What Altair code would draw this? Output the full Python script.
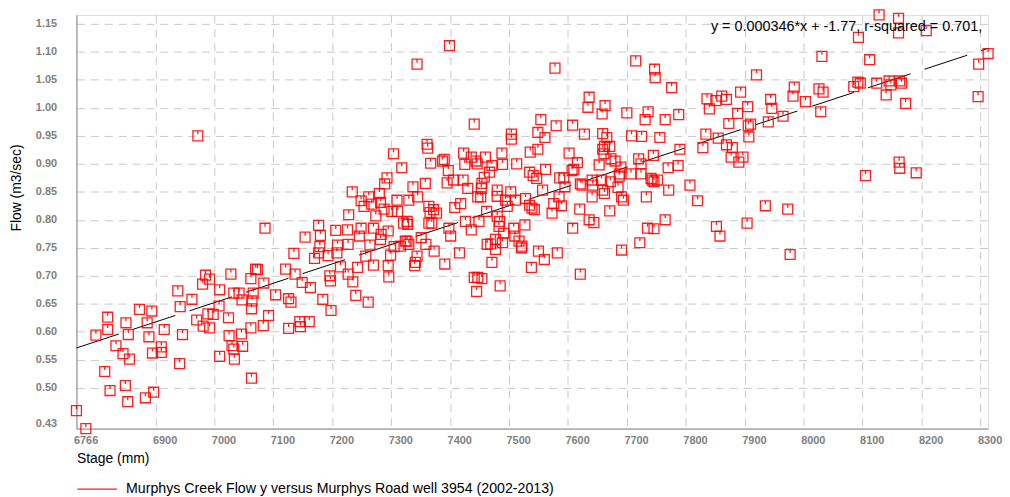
import altair as alt
import pandas as pd

# ---- data ----
stage = [
    6766, 6782, 6799, 6819, 6819, 6814, 6823, 6833, 6845, 6856, 6850, 6854, 6849, 6853, 6873, 6894,
    6886, 6889, 6883, 6897, 6895, 6910, 6910, 6915, 6938, 6942, 6946, 6941, 6962, 6970, 6981, 6989,
    6992, 6998, 6980, 6985, 6992, 7008, 7009, 7024, 7028, 7009, 7025, 7030, 7033, 7034, 7046, 7048,
    7063, 7062, 7063, 7064, 7062, 7070, 7073, 7042, 7033, 7066, 7084, 7083, 7047,
    6972, 7086, 7092,
    7121, 7135, 7137, 7149, 7163, 7104, 7126, 7130, 7126, 7145, 7146, 7161, 7184, 7198, 7154, 7177,
    7180, 7179, 7177, 7170, 7193, 7206, 7209, 7208, 7214, 7196, 7197, 7226, 7227, 7228, 7234, 7227,
    7235, 7240, 7243, 7249, 7246, 7257, 7261, 7270, 7249, 7254, 7262, 7267, 7270, 7274, 7264, 7280,
    7282, 7283, 7282, 7289, 7293, 7288, 7295, 7295, 7296, 7299, 7305, 7310, 7311, 7316, 7318, 7324,
    7321, 7301,
    7304, 7330, 7327, 7328, 7327, 7330, 7337, 7345, 7351, 7359, 7373, 7344, 7341, 7340, 7361, 7362,
    7367, 7358, 7364, 7366, 7372, 7377, 7364, 7369, 7390, 7387, 7397, 7395, 7406, 7422, 7408, 7418,
    7391, 7398, 7401, 7416, 7423, 7425, 7436, 7430, 7444, 7446, 7453, 7447, 7452, 7460, 7458, 7467,
    7471, 7454, 7462, 7426, 7436, 7441, 7449, 7441, 7447, 7454, 7445, 7463, 7469, 7477, 7477, 7471,
    7480, 7480, 7480, 7484, 7483, 7488, 7489, 7494, 7497, 7491, 7489, 7485, 7504, 7504, 7513, 7503,
    7511, 7508, 7510, 7517, 7522, 7521, 7527, 7528, 7535, 7539, 7543, 7536, 7535, 7541, 7547, 7549,
    7554, 7561, 7549, 7562, 7557, 7550, 7560, 7538, 7573, 7576,
    7399, 7344,
    7578, 7580, 7608, 7628, 7636, 7634, 7663, 7658, 7659, 7666, 7659, 7662, 7661, 7671, 7673, 7653,
    7602, 7616, 7610, 7607, 7593, 7586, 7595, 7585, 7589, 7621, 7624, 7641, 7642, 7641, 7657, 7659,
    7662, 7672, 7671, 7620, 7636, 7644, 7608, 7680, 7690, 7688, 7691, 7694, 7685, 7687, 7700, 7708,
    7725, 7731, 7736, 7720, 7724, 7707, 7724, 7733, 7741, 7745, 7746, 7743, 7752, 7756, 7765, 7788,
    7770, 7787, 7771, 7765, 7735, 7746, 7722, 7691, 7715, 7747, 7748, 7776, 7807, 7820, 7790, 7829,
    7834, 7836, 7840, 7582, 7621,
    7851, 7869, 7861, 7888, 7893, 7905, 7920, 7855, 7873, 7869, 7879, 7877, 7890, 7897, 7907, 7906,
    7910, 7944, 7946, 7940, 7965, 7982, 7984, 8003, 8026, 8033, 8029, 8031, 7852, 7858, 7904, 7935,
    7973, 7977,
    8093, 8112, 8128, 8161, 8161, 8208, 8085, 8092, 8096, 8124, 8145, 8148, 8140, 8163, 8166, 8173,
    8105, 8162, 8163, 8191, 8297, 8313, 8296,
]

flow = [
    0.459, 0.427, 0.594, 0.626, 0.604, 0.529, 0.495, 0.575, 0.561, 0.551, 0.616, 0.595, 0.504, 0.475, 0.640, 0.637,
    0.616, 0.591, 0.482, 0.492, 0.562, 0.563, 0.573, 0.604, 0.673, 0.645, 0.595, 0.543, 0.658, 0.621, 0.610, 0.632,
    0.607, 0.631, 0.685, 0.701, 0.694, 0.646, 0.675, 0.625, 0.703, 0.556, 0.593, 0.575, 0.569, 0.551, 0.596, 0.574,
    0.517, 0.607, 0.641, 0.655, 0.695, 0.712, 0.711, 0.669, 0.669, 0.669, 0.687, 0.611, 0.657,
    0.950, 0.785, 0.629,
    0.712, 0.740, 0.703, 0.688, 0.679, 0.666, 0.659, 0.653, 0.606, 0.618, 0.609, 0.618, 0.658, 0.638, 0.769, 0.790,
    0.772, 0.752, 0.741, 0.731, 0.736, 0.781, 0.755, 0.741, 0.716, 0.700, 0.691, 0.782, 0.756, 0.809, 0.850, 0.703,
    0.689, 0.665, 0.715, 0.785, 0.771, 0.735, 0.653, 0.719, 0.834, 0.824, 0.841, 0.828, 0.785, 0.807, 0.755, 0.847,
    0.831, 0.774, 0.765, 0.864, 0.875, 0.819, 0.780, 0.718, 0.698, 0.737, 0.752, 0.835, 0.815, 0.753, 0.893, 0.762,
    0.794, 0.815,
    0.918, 0.835, 0.797, 0.792, 0.762, 0.756, 0.859, 0.841, 0.768, 0.756, 0.744, 0.735, 0.724, 0.718, 0.935, 0.928,
    0.901, 0.865, 0.824, 0.813, 0.818, 0.812, 0.794, 0.794, 0.908, 0.905, 0.888, 0.866, 0.871, 0.871, 0.822, 0.829,
    0.721, 0.785, 0.771, 0.741, 0.919, 0.899, 0.912, 0.856, 0.905, 0.900, 0.856, 0.841, 0.841, 0.912, 0.876, 0.885,
    0.897, 0.865, 0.815, 0.797, 0.782, 0.971, 0.797, 0.697, 0.697, 0.695, 0.672, 0.756, 0.757, 0.765, 0.747, 0.724,
    0.853, 0.842, 0.806, 0.797, 0.788, 0.919, 0.899, 0.835, 0.824, 0.776, 0.759, 0.682, 0.953, 0.944, 0.900, 0.850,
    0.835, 0.785, 0.771, 0.762, 0.753, 0.750, 0.791, 0.838, 0.826, 0.821, 0.818, 0.921, 0.885, 0.879, 0.874, 0.956,
    0.979, 0.947, 0.926, 0.890, 0.853, 0.744, 0.729, 0.715, 0.812, 0.829,
    1.111, 1.078,
    1.071, 0.968, 0.969, 0.953, 1.019, 1.001, 1.004, 0.989, 0.954, 0.947, 0.926, 0.931, 0.918, 0.931, 0.909, 0.898,
    0.919, 0.902, 0.890, 0.888, 0.875, 0.875, 0.859, 0.841, 0.825, 0.864, 0.862, 0.871, 0.862, 0.841, 0.871, 0.853,
    0.847, 0.868, 0.816, 0.819, 0.800, 0.795, 0.785, 0.905, 0.894, 0.882, 0.841, 0.835, 0.858, 0.878, 0.991, 0.950,
    0.949, 0.979, 0.993, 0.909, 0.900, 0.882, 0.882, 0.841, 0.874, 0.915, 0.868, 0.871, 0.871, 0.947, 0.979, 0.988,
    0.893, 0.897, 0.853, 0.800, 0.785, 0.784, 0.759, 0.746, 1.084, 1.069, 1.054, 1.036, 0.862, 0.834, 0.926, 0.929,
    0.953, 1.016, 0.998, 0.741, 0.703,
    1.013, 1.015, 1.021, 0.990, 1.028, 1.002, 1.059, 0.946, 0.972, 0.934, 0.929, 0.912, 0.903, 0.912, 0.948, 0.968,
    0.971, 1.015, 0.999, 0.975, 0.985, 1.021, 1.037, 1.011, 1.034, 1.028, 0.993, 1.092, 0.788, 0.771, 0.794, 0.825,
    0.819, 0.738,
    1.126, 1.086, 1.166, 1.160, 1.134, 1.138, 1.038, 1.046, 1.044, 1.044, 1.048, 1.041, 1.023, 1.048, 1.044, 1.008,
    0.879, 0.903, 0.892, 0.884, 1.078, 1.097, 1.020,
]

stage_ticks = [6900, 7000, 7100, 7200, 7300, 7400, 7500, 7600, 7700, 7800, 7900, 8000, 8100, 8200, 8300]
flow_ticks = [0.50, 0.55, 0.60, 0.65, 0.70, 0.75, 0.80, 0.85, 0.90, 0.95, 1.00, 1.05, 1.10, 1.15]

slope = 0.000346
intercept = -1.77
equation_label = "y = 0.000346*x + -1.77, r-squared = 0.701,"
label_stage = 8303
label_flow = 1.145
series_name = "Murphys Creek Flow y versus Murphys Road well 3954 (2002-2013)"

# ---- tables ----
n = min(len(stage), len(flow))
points = pd.DataFrame({"stage": stage[:n], "flow": flow[:n], "series": series_name})
xmin, xmax = min(stage), max(stage)
ymin, ymax = min(flow), max(flow)
fit = pd.DataFrame({"stage": [xmin, xmax], "flow": [slope * xmin + intercept, slope * xmax + intercept]})
ann = pd.DataFrame({"stage": [label_stage], "flow": [label_flow], "text": [equation_label]})

FONT = "Liberation Sans"
x_scale = alt.Scale(domain=[xmin, xmax], nice=False, zero=False)
y_scale = alt.Scale(domain=[ymin, ymax], nice=False, zero=False)

x_axis = alt.Axis(
    values=[xmin] + stage_ticks, format="d", title="Stage (mm)",
    ticks=False, labelAlign="left", labelOffset=-3, labelPadding=6, labelOverlap=False,
    labelFont=FONT, labelFontSize=11, labelFontWeight="bold", labelColor="#808080",
    grid=True, gridColor="#c8c8c8", gridDash=[8, 6], gridWidth=1,
    gridOpacity={"condition": {"test": "datum.value < 6800", "value": 0}, "value": 1},
    domainColor="#888888", domainWidth=1,
    titleFont=FONT, titleFontSize=14, titleFontWeight="normal", titleColor="#000000",
    titleX=0, titleY=30, titleAlign="left", titleBaseline="middle", titleAnchor="start",
)
y_axis = alt.Axis(
    values=[ymin] + flow_ticks, format=".2f", title="Flow (m3/sec)",
    ticks=False, labelPadding=20, labelFlush=True, labelOverlap=False, labelSeparation=0,
    labelFont=FONT, labelFontSize=11, labelFontWeight="bold", labelColor="#808080",
    grid=True, gridColor="#c8c8c8", gridDash=[8, 6], gridWidth=1,
    gridOpacity={"condition": {"test": "datum.value < 0.45", "value": 0}, "value": 1},
    domainColor="#888888", domainWidth=1,
    titleFont=FONT, titleFontSize=14, titleFontWeight="normal", titleColor="#000000",
    titleX=-60, titleY=174, titleAngle=270, titleAlign="center", titleBaseline="middle",
)

X = alt.X("stage:Q", scale=x_scale, axis=x_axis)
Y = alt.Y("flow:Q", scale=y_scale, axis=y_axis)

marker = "M-1,-1H1V1H-1Z M0,-1V-0.3"

pts = alt.Chart(points).mark_point(
    shape=marker, size=100, filled=False, strokeWidth=1.3, opacity=0.88
).encode(
    x=X, y=Y,
    color=alt.Color(
        "series:N",
        scale=alt.Scale(domain=[series_name], range=["#ff0000"]),
        legend=alt.Legend(
            title=None, orient="none", legendX=0, legendY=457,
            symbolType="stroke", symbolSize=1600, symbolStrokeWidth=1.2,
            labelFont=FONT, labelFontSize=14.3, labelColor="#000000", labelOffset=8,
            padding=0, labelLimit=600,
        ),
    ),
)

line = alt.Chart(fit).mark_line(color="#000000", strokeWidth=1, strokeDash=[45, 15]).encode(
    x=X, y=Y,
)

txt = alt.Chart(ann).mark_text(
    align="right", baseline="middle", font=FONT, fontSize=14.5, color="#000000"
).encode(
    x=X, y=Y, text="text:N",
)

chart = alt.layer(line, pts, txt).properties(
    width=919, height=417,
    autosize=alt.AutoSizeParams(type="none"),
    padding={"left": 69, "top": 5, "right": 14, "bottom": 70},
).configure_view(stroke="#888888", strokeWidth=1).configure_axis(
    labelOverlap=False
).configure(font=FONT, background="white")

chart.save("out.html", embed_options={"renderer": "svg", "actions": False})
